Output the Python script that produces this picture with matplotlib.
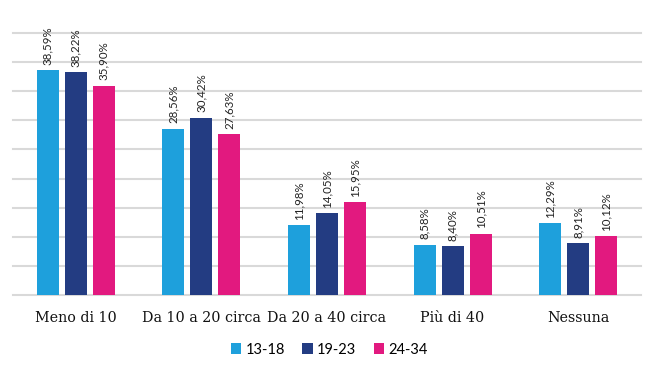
import matplotlib
matplotlib.use("Agg")
import matplotlib.pyplot as plt
import numpy as np

categories = ["Meno di 10", "Da 10 a 20 circa", "Da 20 a 40 circa", "Più di 40", "Nessuna"]
series = ["13-18", "19-23", "24-34"]
v_13_18 = [38.59, 28.56, 11.98, 8.58, 12.29]
v_19_23 = [38.22, 30.42, 14.05, 8.40, 8.91]
v_24_34 = [35.90, 27.63, 15.95, 10.51, 10.12]
colors = ["#1ea0dc", "#233c82", "#e2197f"]

fig = plt.figure(figsize=(6.52, 3.66), dpi=100)
ax = fig.add_axes([0.02, 0.194, 0.963, 0.716])

x = np.arange(len(categories))
width = 0.175
step = 0.223
for i, (name, vals) in enumerate(zip(series, [v_13_18, v_19_23, v_24_34])):
    pos = x + (i - 1) * step
    ax.bar(pos, vals, width, color=colors[i], label=name, zorder=3)
    for p, v in zip(pos, vals):
        lbl = ("%.2f%%" % v).replace(".", ",")
        ax.annotate(lbl, (p, v), xytext=(0, 4), textcoords="offset points",
                    rotation=90, ha="center", va="bottom", fontsize=8.3,
                    family="Lato", color="#222222", annotation_clip=False)

ax.set_xlim(-0.5, len(categories) - 0.5)
ax.set_ylim(0, 45)
ax.set_yticks(np.arange(0, 46, 5))
ax.yaxis.grid(True, color="#d9d9d9", linewidth=1.5, zorder=0)
for gl in ax.get_ygridlines():
    gl.set_clip_on(False)
ax.tick_params(axis="y", left=False, labelleft=False)
ax.tick_params(axis="x", bottom=False, pad=8)
ax.set_xticks(x)
ax.set_xticklabels(categories, family="DejaVu Serif", fontsize=10.3, color="#111111")
for s in ax.spines.values():
    s.set_visible(False)

leg = fig.legend(loc="center", bbox_to_anchor=(0.505, 0.045), ncol=3, frameon=False,
                 prop={"family": "Lato", "size": 10.5}, handlelength=0.7, handleheight=0.7,
                 handletextpad=0.3, columnspacing=1.2)

fig.savefig("out.png", dpi=100)
